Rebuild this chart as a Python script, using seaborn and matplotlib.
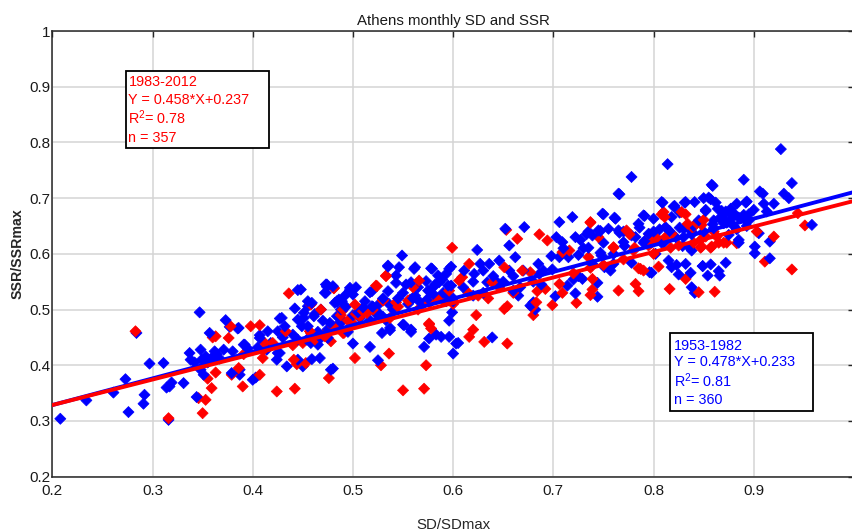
import matplotlib
matplotlib.use("Agg")
import matplotlib.pyplot as plt
import seaborn as sns
import pandas as pd
from matplotlib.patches import Rectangle

# ---------------- data ----------------
periods = ["1953-1982", "1983-2012"]
period_colors = ["#0000ff", "#ff0000"]
slopes = [0.478, 0.458]
intercepts = [0.233, 0.237]
r2_values = [0.81, 0.78]
n_values = [360, 357]
line_x = [0.2, 1.0]

blue_points = [
    (0.208,0.304),(0.234,0.337),(0.261,0.351),(0.273,0.375),(0.276,0.316),(0.284,0.458),(0.291,0.331),
    (0.292,0.347),(0.297,0.403),(0.311,0.404),(0.314,0.360),(0.316,0.302),(0.319,0.369),(0.317,0.362),
    (0.331,0.368),(0.337,0.422),(0.338,0.410),(0.344,0.343),(0.347,0.495),(0.349,0.410),(0.348,0.392),
    (0.351,0.383),(0.357,0.458),(0.364,0.420),(0.367,0.412),(0.373,0.481),(0.377,0.469),(0.379,0.386),
    (0.385,0.466),(0.387,0.383),(0.392,0.437),(0.400,0.374),(0.403,0.378),(0.407,0.454),(0.414,0.428),
    (0.427,0.484),(0.425,0.422),(0.434,0.398),(0.445,0.535),(0.442,0.502),(0.450,0.398),(0.451,0.485),
    (0.459,0.411),(0.459,0.512),(0.474,0.541),(0.480,0.394),(0.497,0.535),(0.484,0.514),
    (0.342,0.405),(0.355,0.405),(0.360,0.415),(0.348,0.428),(0.353,0.416),(0.362,0.425),(0.371,0.428),
    (0.380,0.425),(0.386,0.467),(0.391,0.437),(0.395,0.430),(0.405,0.432),(0.407,0.449),(0.415,0.461),
    (0.418,0.440),(0.425,0.461),(0.429,0.485),(0.430,0.450),(0.440,0.455),(0.445,0.482),(0.455,0.515),
    (0.455,0.470),(0.465,0.460),(0.470,0.480),(0.472,0.530),(0.473,0.545),(0.475,0.465),(0.477,0.476),
    (0.480,0.542),(0.482,0.512),(0.484,0.488),(0.485,0.470),(0.486,0.518),(0.490,0.480),(0.495,0.460),
    (0.449,0.470),(0.454,0.446),(0.445,0.446),(0.458,0.440),(0.468,0.449),(0.475,0.449),(0.445,0.410),
    (0.424,0.410),(0.427,0.422),(0.465,0.437),(0.467,0.413),(0.478,0.392),(0.387,0.392),(0.432,0.470),
    (0.462,0.492),(0.468,0.500),(0.488,0.500),(0.492,0.525),(0.493,0.505),(0.498,0.470),
    (0.500,0.490),(0.503,0.540),(0.505,0.495),(0.510,0.504),(0.512,0.515),(0.517,0.531),(0.517,0.481),
    (0.520,0.505),(0.525,0.495),(0.526,0.510),(0.530,0.520),(0.530,0.487),(0.533,0.481),(0.535,0.579),
    (0.536,0.510),(0.540,0.500),(0.543,0.561),(0.545,0.520),(0.546,0.576),(0.549,0.597),(0.550,0.530),
    (0.555,0.510),(0.558,0.549),(0.560,0.520),(0.561,0.573),(0.565,0.540),(0.570,0.510),(0.575,0.534),
    (0.575,0.520),(0.579,0.573),(0.580,0.528),(0.580,0.540),(0.585,0.561),(0.586,0.549),(0.590,0.530),
    (0.593,0.564),(0.596,0.573),(0.598,0.543),(0.600,0.520),(0.610,0.540),(0.611,0.570),(0.620,0.550),
    (0.620,0.525),(0.621,0.564),(0.624,0.607),(0.627,0.582),(0.630,0.570),(0.630,0.530),(0.634,0.549),
    (0.636,0.582),(0.640,0.560),(0.644,0.549),(0.646,0.588),(0.650,0.550),(0.652,0.645),(0.656,0.615),
    (0.656,0.570),(0.660,0.534),(0.660,0.560),(0.662,0.594),(0.665,0.525),(0.667,0.540),(0.670,0.570),
    (0.671,0.648),(0.677,0.507),(0.680,0.513),(0.680,0.550),(0.685,0.582),(0.686,0.564),(0.688,0.545),
    (0.690,0.570),
    (0.500,0.439),(0.517,0.433),(0.525,0.409),(0.537,0.463),(0.551,0.472),(0.558,0.460),(0.571,0.433),
    (0.576,0.448),(0.588,0.451),(0.596,0.451),(0.596,0.480),(0.599,0.495),(0.600,0.421),(0.603,0.439),
    (0.605,0.440),(0.639,0.450),(0.682,0.500),
    (0.698,0.596),(0.699,0.572),(0.702,0.524),(0.703,0.630),(0.706,0.657),(0.706,0.594),(0.709,0.621),
    (0.714,0.543),(0.715,0.594),(0.719,0.666),(0.720,0.554),(0.722,0.529),(0.722,0.630),(0.725,0.560),
    (0.727,0.625),(0.729,0.555),(0.735,0.640),(0.739,0.633),(0.739,0.582),(0.744,0.523),(0.744,0.548),
    (0.745,0.642),(0.748,0.597),(0.749,0.672),(0.751,0.576),(0.755,0.645),(0.757,0.570),(0.760,0.582),
    (0.762,0.663),(0.765,0.642),(0.765,0.708),(0.770,0.621),(0.778,0.738),(0.778,0.633),(0.782,0.630),
    (0.785,0.654),(0.790,0.669),(0.795,0.636),(0.796,0.567),(0.800,0.663),(0.802,0.600),(0.808,0.693),
    (0.812,0.648),(0.814,0.761),(0.815,0.588),(0.818,0.666),(0.818,0.576),(0.820,0.685),(0.822,0.630),
    (0.823,0.580),(0.825,0.563),(0.830,0.645),(0.832,0.693),(0.832,0.582),(0.837,0.566),(0.838,0.640),
    (0.838,0.606),(0.838,0.540),(0.841,0.693),(0.841,0.530),(0.845,0.660),(0.849,0.578),(0.850,0.700),
    (0.852,0.679),(0.854,0.561),(0.857,0.698),(0.857,0.581),(0.858,0.724),(0.860,0.646),(0.864,0.681),
    (0.866,0.664),(0.866,0.561),(0.870,0.655),(0.872,0.676),(0.872,0.584),(0.875,0.634),(0.877,0.681),
    (0.878,0.664),(0.880,0.673),(0.883,0.690),(0.885,0.625),(0.890,0.733),(0.890,0.664),(0.893,0.694),
    (0.895,0.660),(0.900,0.679),(0.901,0.613),(0.901,0.601),(0.905,0.637),(0.906,0.712),(0.909,0.708),
    (0.913,0.676),(0.916,0.622),(0.916,0.592),(0.927,0.788),(0.930,0.708),(0.938,0.727),(0.958,0.652),
    (0.710,0.610),(0.730,0.610),(0.750,0.620),(0.760,0.600),(0.770,0.640),(0.790,0.620),(0.800,0.640),
    (0.810,0.620),(0.830,0.630),(0.840,0.650),(0.850,0.640),(0.860,0.660),(0.870,0.670),(0.880,0.650),
    (0.890,0.670),(0.910,0.690),(0.920,0.690),(0.935,0.700),
    # extra readings, dense centre
    (0.535,0.577),(0.562,0.576),(0.578,0.574),(0.598,0.577),(0.543,0.548),(0.553,0.545),(0.573,0.551),
    (0.589,0.554),(0.582,0.545),(0.595,0.543),(0.519,0.533),(0.535,0.533),(0.562,0.525),(0.566,0.515),
    (0.593,0.515),(0.474,0.545),(0.473,0.530),(0.497,0.539),(0.500,0.527),(0.489,0.515),(0.484,0.515),
    (0.455,0.506),(0.448,0.536),(0.519,0.506),(0.524,0.491),(0.507,0.485),(0.529,0.458),(0.537,0.467),
    (0.550,0.473),(0.558,0.464),(0.583,0.455),(0.593,0.527),(0.600,0.515),(0.451,0.494),(0.461,0.488),
    (0.483,0.470),
    # extra readings, dense upper right
    (0.766,0.707),(0.859,0.722),(0.809,0.692),(0.821,0.686),(0.831,0.692),(0.855,0.701),(0.862,0.692),
    (0.892,0.692),(0.750,0.671),(0.761,0.665),(0.791,0.668),(0.826,0.674),(0.852,0.677),(0.868,0.677),
    (0.878,0.671),(0.885,0.665),(0.895,0.671),(0.859,0.653),(0.873,0.656),(0.883,0.644),(0.893,0.650),
    (0.733,0.635),(0.747,0.641),(0.766,0.638),(0.786,0.647),(0.806,0.644),(0.816,0.641),(0.826,0.647),
    (0.838,0.635),(0.735,0.611),(0.747,0.602),(0.771,0.614),(0.791,0.623),(0.808,0.620),(0.829,0.614),
    (0.836,0.611),(0.885,0.620),(0.778,0.584),(0.798,0.566),(0.849,0.578),(0.865,0.569),(0.725,0.598),
]

red_points = [
    (0.283,0.461),(0.316,0.305),(0.346,0.341),(0.350,0.314),(0.353,0.338),(0.355,0.376),(0.359,0.359),
    (0.360,0.450),(0.363,0.387),(0.363,0.452),(0.376,0.449),(0.378,0.470),(0.379,0.383),(0.386,0.395),
    (0.390,0.362),(0.391,0.420),(0.398,0.470),(0.407,0.472),(0.407,0.383),(0.410,0.413),(0.411,0.428),
    (0.412,0.440),(0.420,0.440),(0.424,0.353),(0.433,0.461),(0.436,0.529),(0.440,0.436),(0.441,0.410),
    (0.442,0.358),(0.444,0.402),(0.450,0.440),(0.453,0.404),(0.457,0.461),(0.458,0.510),(0.462,0.446),
    (0.470,0.455),(0.476,0.377),(0.478,0.443),(0.480,0.470),(0.481,0.538),(0.488,0.490),(0.490,0.458),
    (0.490,0.500),(0.495,0.480),(0.500,0.475),
    (0.502,0.413),(0.503,0.492),(0.507,0.487),(0.510,0.497),(0.520,0.500),(0.523,0.543),(0.528,0.400),
    (0.530,0.516),(0.533,0.561),(0.536,0.421),(0.543,0.513),(0.545,0.505),(0.550,0.355),(0.555,0.516),
    (0.560,0.540),(0.565,0.500),(0.566,0.552),(0.571,0.358),(0.573,0.400),(0.576,0.513),(0.576,0.475),
    (0.578,0.466),(0.585,0.520),(0.591,0.516),(0.596,0.534),(0.599,0.611),(0.600,0.510),(0.606,0.552),
    (0.609,0.558),(0.615,0.530),(0.616,0.582),(0.616,0.451),(0.620,0.464),(0.623,0.490),(0.625,0.525),
    (0.631,0.442),(0.635,0.520),(0.639,0.549),(0.646,0.540),(0.651,0.576),(0.651,0.501),(0.653,0.643),
    (0.654,0.506),(0.654,0.439),(0.660,0.530),(0.664,0.627),(0.669,0.570),(0.677,0.567),(0.679,0.504),
    (0.680,0.490),(0.683,0.513),(0.684,0.533),(0.686,0.635),(0.692,0.537),(0.694,0.624),
    (0.699,0.508),(0.706,0.546),(0.709,0.530),(0.709,0.603),(0.716,0.606),(0.720,0.565),(0.723,0.512),
    (0.735,0.594),(0.737,0.657),(0.737,0.526),(0.739,0.555),(0.739,0.536),(0.745,0.630),(0.750,0.580),
    (0.760,0.612),(0.765,0.534),(0.770,0.590),(0.773,0.642),(0.780,0.606),(0.782,0.546),(0.785,0.574),
    (0.785,0.533),(0.790,0.570),(0.795,0.615),(0.800,0.600),(0.810,0.675),(0.812,0.630),(0.816,0.537),
    (0.818,0.636),(0.825,0.615),(0.828,0.675),(0.832,0.555),(0.834,0.654),(0.840,0.620),(0.845,0.531),
    (0.847,0.625),(0.848,0.652),(0.848,0.613),(0.850,0.661),(0.852,0.631),(0.858,0.613),(0.860,0.640),
    (0.861,0.532),(0.863,0.631),(0.870,0.620),(0.883,0.619),(0.903,0.640),(0.911,0.586),(0.920,0.631),
    (0.938,0.572),(0.944,0.673),(0.951,0.651),
    # extra readings
    (0.533,0.560),(0.524,0.542),(0.530,0.518),(0.557,0.518),(0.578,0.515),(0.584,0.520),(0.481,0.539),
    (0.458,0.509),(0.489,0.497),(0.502,0.509),(0.514,0.494),(0.537,0.485),(0.576,0.473),(0.468,0.500),
    (0.458,0.458),(0.491,0.458),(0.472,0.452),
    (0.737,0.656),(0.808,0.671),(0.811,0.666),(0.832,0.671),(0.776,0.635),(0.796,0.635),(0.803,0.629),
    (0.839,0.647),(0.843,0.655),(0.760,0.611),(0.781,0.611),(0.798,0.620),(0.817,0.611),(0.847,0.611),
    (0.857,0.611),(0.865,0.620),(0.873,0.620),(0.737,0.575),(0.787,0.573),(0.805,0.577),
]

x_ticks = [0.2, 0.3, 0.4, 0.5, 0.6, 0.7, 0.8, 0.9]
x_tick_labels = ["0.2", "0.3", "0.4", "0.5", "0.6", "0.7", "0.8", "0.9"]
y_ticks = [0.2, 0.3, 0.4, 0.5, 0.6, 0.7, 0.8, 0.9, 1.0]
y_tick_labels = ["0.2", "0.3", "0.4", "0.5", "0.6", "0.7", "0.8", "0.9", "1"]

title = "Athens monthly SD and SSR"
x_label = "SD/SDmax"
y_label = "SSR/SSRmax"

# ---------------- build tables ----------------
rows = []
for (x, y) in blue_points:
    rows.append({"SD": x, "SSR": y, "period": periods[0]})
for (x, y) in red_points:
    rows.append({"SD": x, "SSR": y, "period": periods[1]})
df = pd.DataFrame(rows)
# interleave the two periods so that overlaps are mixed, as in the reference
df = df.sort_values("SSR", kind="stable").reset_index(drop=True)

line_rows = []
for p, a, b in zip(periods, slopes, intercepts):
    for x in line_x:
        line_rows.append({"SD": x, "SSR": a * x + b, "period": p})
df_lines = pd.DataFrame(line_rows)

# ---------------- style ----------------
sns.set_theme(style="white")
plt.rcParams["font.family"] = ["Liberation Sans", "DejaVu Sans"]
plt.rcParams["mathtext.fontset"] = "custom"
plt.rcParams["mathtext.rm"] = "Liberation Sans"
plt.rcParams["mathtext.it"] = "Liberation Sans"

W, H = 852, 531
fig = plt.figure(figsize=(W / 100, H / 100), dpi=100)
ax_left, ax_right, ax_top, ax_bottom = 52.3, 854.0, 31.0, 476.7
ax = fig.add_axes([ax_left / W, 1 - ax_bottom / H, (ax_right - ax_left) / W, (ax_bottom - ax_top) / H])

palette = dict(zip(periods, period_colors))

sns.scatterplot(data=df, x="SD", y="SSR", hue="period", palette=palette, marker="D",
                s=32, linewidth=0.5, edgecolor="face", legend=False, ax=ax, zorder=3)
sns.lineplot(data=df_lines, x="SD", y="SSR", hue="period", palette=palette,
             linewidth=2.8, legend=False, ax=ax, zorder=4)

ax.set_xlim(0.2, 1.0)
ax.set_ylim(0.2, 1.0)
ax.set_xticks(x_ticks)
ax.set_xticklabels(x_tick_labels)
ax.set_yticks(y_ticks)
ax.set_yticklabels(y_tick_labels)
ax.grid(True, color="#d4d4d4", linewidth=1.1, zorder=0)
ax.set_axisbelow(True)
for sp in ax.spines.values():
    sp.set_color("#262626")
    sp.set_linewidth(1.1)
ax.tick_params(direction="in", length=4.5, width=1.0, color="#262626",
               top=True, right=True, labelsize=11, labelcolor="#1a1a1a")
ax.tick_params(axis="y", pad=1.5)
ax.tick_params(axis="x", pad=5)

ax.set_title(title, fontsize=10.8, color="#1a1a1a", pad=4)
ax.set_xlabel(x_label, fontsize=10.8, color="#262626", labelpad=15)
ax.set_ylabel(y_label, fontsize=10.2, color="#262626", fontweight="bold", labelpad=3)

# ---------------- annotation boxes ----------------
def add_box(px0, py0, px1, py1, tx, baselines, lines, color):
    fig.patches.append(Rectangle((px0 / W, 1 - py1 / H), (px1 - px0) / W, (py1 - py0) / H,
                                 transform=fig.transFigure, facecolor="white",
                                 edgecolor="black", linewidth=1.3, zorder=10))
    for bl, txt in zip(baselines, lines):
        fig.text(tx / W, 1 - bl / H, txt, color=color, fontsize=10.4,
                 va="baseline", ha="left", zorder=11)

red_lines = [periods[1], f"Y = {slopes[1]}*X+{intercepts[1]}", f"R$^2$= {r2_values[1]}", f"n = {n_values[1]}"]
blue_lines = [periods[0], f"Y = {slopes[0]}*X+{intercepts[0]}", f"R$^2$= {r2_values[0]}", f"n = {n_values[0]}"]

add_box(125.7, 70.7, 268.7, 148.3, 128.5, [86, 103.5, 124, 141.5], red_lines, period_colors[1])
add_box(670.0, 333.3, 813.3, 411.0, 673.5, [349.5, 366, 387, 404], blue_lines, period_colors[0])

fig.savefig("out.png", dpi=100)
